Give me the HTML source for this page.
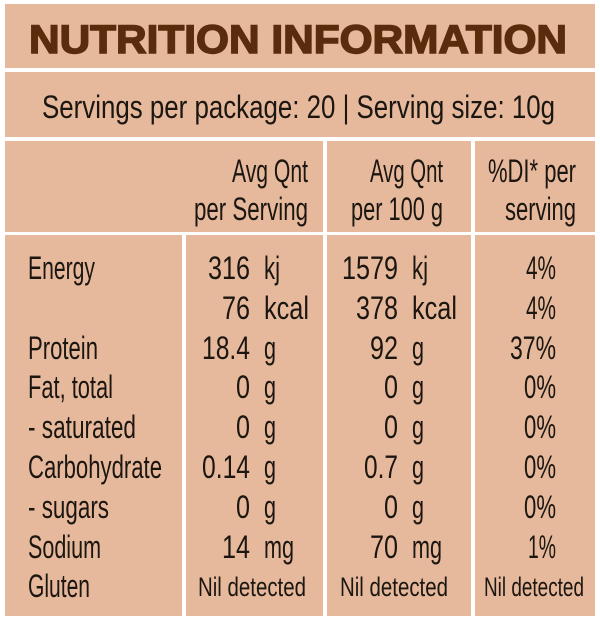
<!DOCTYPE html>
<html><head><meta charset="utf-8"><style>
html,body{margin:0;padding:0;background:#fff;}
svg{display:block}
text{font-family:"Liberation Sans Narrow","Liberation Sans",sans-serif;fill:#1c1611;font-size:32px}
</style></head><body>
<svg width="600" height="620" viewBox="0 0 600 620" xmlns="http://www.w3.org/2000/svg">
<rect width="600" height="620" fill="#fff"/>
<g fill="#e7b99c">
<rect x="5" y="4" width="590" height="64"/>
<rect x="5" y="72" width="590" height="65"/>
<rect x="5" y="141" width="318" height="91"/>
<rect x="327" y="141" width="144" height="91"/>
<rect x="475" y="141" width="120" height="91"/>
<rect x="5" y="235" width="177" height="381"/>
<rect x="186" y="235" width="137" height="381"/>
<rect x="327" y="235" width="144" height="381"/>
<rect x="475" y="235" width="120" height="381"/>
</g>
<text x="29" y="53" textLength="538" lengthAdjust="spacingAndGlyphs" style="font-family:'Liberation Sans',sans-serif;font-weight:bold;font-size:40px;fill:#5a2c0d;stroke:#5a2c0d;stroke-width:1.5">NUTRITION INFORMATION</text>
<text x="42" y="118" textLength="513" lengthAdjust="spacingAndGlyphs">Servings per package: 20 | Serving size: 10g</text>

<g style="font-size:31px">
<text x="232" y="182" textLength="76" lengthAdjust="spacingAndGlyphs">Avg Qnt</text>
<text x="194" y="220" textLength="114" lengthAdjust="spacingAndGlyphs">per Serving</text>
<text x="370" y="182" textLength="73" lengthAdjust="spacingAndGlyphs">Avg Qnt</text>
<text x="351" y="220" textLength="92" lengthAdjust="spacingAndGlyphs">per 100 g</text>
<text x="488" y="182" textLength="88" lengthAdjust="spacingAndGlyphs">%DI* per</text>
<text x="505" y="220" textLength="71" lengthAdjust="spacingAndGlyphs">serving</text>
</g>

<g>
<text x="28" y="279" textLength="67" lengthAdjust="spacingAndGlyphs">Energy</text>
<text x="28" y="359" textLength="70" lengthAdjust="spacingAndGlyphs">Protein</text>
<text x="28" y="398" textLength="85" lengthAdjust="spacingAndGlyphs">Fat, total</text>
<text x="28" y="438" textLength="108" lengthAdjust="spacingAndGlyphs">- saturated</text>
<text x="28" y="478" textLength="134" lengthAdjust="spacingAndGlyphs">Carbohydrate</text>
<text x="28" y="518" textLength="81" lengthAdjust="spacingAndGlyphs">- sugars</text>
<text x="28" y="558" textLength="73" lengthAdjust="spacingAndGlyphs">Sodium</text>
<text x="28" y="597" textLength="62" lengthAdjust="spacingAndGlyphs">Gluten</text>
</g>

<g text-anchor="end">
<text x="250" y="279" textLength="42" lengthAdjust="spacingAndGlyphs">316</text>
<text x="250" y="319" textLength="28" lengthAdjust="spacingAndGlyphs">76</text>
<text x="250" y="359" textLength="48" lengthAdjust="spacingAndGlyphs">18.4</text>
<text x="250" y="398" textLength="14" lengthAdjust="spacingAndGlyphs">0</text>
<text x="250" y="438" textLength="14" lengthAdjust="spacingAndGlyphs">0</text>
<text x="250" y="478" textLength="48" lengthAdjust="spacingAndGlyphs">0.14</text>
<text x="250" y="518" textLength="14" lengthAdjust="spacingAndGlyphs">0</text>
<text x="250" y="558" textLength="28" lengthAdjust="spacingAndGlyphs">14</text>

<text x="398" y="279" textLength="56" lengthAdjust="spacingAndGlyphs">1579</text>
<text x="398" y="319" textLength="42" lengthAdjust="spacingAndGlyphs">378</text>
<text x="398" y="359" textLength="28" lengthAdjust="spacingAndGlyphs">92</text>
<text x="398" y="398" textLength="14" lengthAdjust="spacingAndGlyphs">0</text>
<text x="398" y="438" textLength="14" lengthAdjust="spacingAndGlyphs">0</text>
<text x="398" y="478" textLength="34" lengthAdjust="spacingAndGlyphs">0.7</text>
<text x="398" y="518" textLength="14" lengthAdjust="spacingAndGlyphs">0</text>
<text x="398" y="558" textLength="28" lengthAdjust="spacingAndGlyphs">70</text>

<text x="556" y="279" textLength="30" lengthAdjust="spacingAndGlyphs">4%</text>
<text x="556" y="319" textLength="30" lengthAdjust="spacingAndGlyphs">4%</text>
<text x="556" y="359" textLength="46" lengthAdjust="spacingAndGlyphs">37%</text>
<text x="556" y="398" textLength="32" lengthAdjust="spacingAndGlyphs">0%</text>
<text x="556" y="438" textLength="32" lengthAdjust="spacingAndGlyphs">0%</text>
<text x="556" y="478" textLength="32" lengthAdjust="spacingAndGlyphs">0%</text>
<text x="556" y="518" textLength="32" lengthAdjust="spacingAndGlyphs">0%</text>
<text x="556" y="558" textLength="28" lengthAdjust="spacingAndGlyphs">1%</text>
</g>

<g>
<text x="264" y="279" textLength="16" lengthAdjust="spacingAndGlyphs">kj</text>
<text x="264" y="319" textLength="45" lengthAdjust="spacingAndGlyphs">kcal</text>
<text x="264" y="359" textLength="12" lengthAdjust="spacingAndGlyphs">g</text>
<text x="264" y="398" textLength="12" lengthAdjust="spacingAndGlyphs">g</text>
<text x="264" y="438" textLength="12" lengthAdjust="spacingAndGlyphs">g</text>
<text x="264" y="478" textLength="12" lengthAdjust="spacingAndGlyphs">g</text>
<text x="264" y="518" textLength="12" lengthAdjust="spacingAndGlyphs">g</text>
<text x="264" y="558" textLength="30" lengthAdjust="spacingAndGlyphs">mg</text>

<text x="412" y="279" textLength="16" lengthAdjust="spacingAndGlyphs">kj</text>
<text x="412" y="319" textLength="45" lengthAdjust="spacingAndGlyphs">kcal</text>
<text x="412" y="359" textLength="12" lengthAdjust="spacingAndGlyphs">g</text>
<text x="412" y="398" textLength="12" lengthAdjust="spacingAndGlyphs">g</text>
<text x="412" y="438" textLength="12" lengthAdjust="spacingAndGlyphs">g</text>
<text x="412" y="478" textLength="12" lengthAdjust="spacingAndGlyphs">g</text>
<text x="412" y="518" textLength="12" lengthAdjust="spacingAndGlyphs">g</text>
<text x="412" y="558" textLength="30" lengthAdjust="spacingAndGlyphs">mg</text>
</g>

<text x="198" y="596" style="font-size:27px" textLength="108" lengthAdjust="spacingAndGlyphs">Nil detected</text>
<text x="340" y="596" style="font-size:27px" textLength="108" lengthAdjust="spacingAndGlyphs">Nil detected</text>
<text x="484" y="596" style="font-size:27px" textLength="100" lengthAdjust="spacingAndGlyphs">Nil detected</text>
</svg>
</body></html>
